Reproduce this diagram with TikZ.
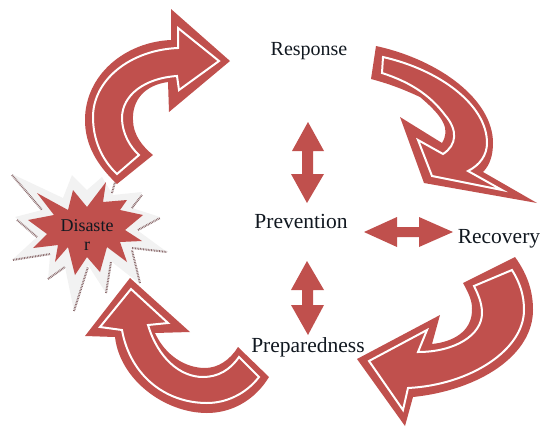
\documentclass[tikz,border=0pt]{standalone}
\usepackage{fontspec}
\setmainfont{Liberation Serif}
\usetikzlibrary{positioning}

\tikzset{
  flecha/.style={fill=arrowred, draw=none},
  filete/.style={draw=white, line width=2pt, line join=miter},
  doble/.style={fill=arrowred, draw=none},
  sombra/.style={draw=hatch, line width=2pt, dash pattern=on .8pt off .8pt},
  etiqueta/.style={text=textdark, font=\fontsize{21.5}{24}\selectfont, inner sep=0pt}
}
\definecolor{arrowred}{HTML}{C0504D}
\definecolor{textdark}{HTML}{111820}
\definecolor{stargrey}{HTML}{F2F2F2}
\definecolor{hatch}{HTML}{8A6A6C}

\begin{document}
\begin{tikzpicture}[x=1pt, y=-1pt]
                  \useasboundingbox (0,0) rectangle (541,426);

                  % Estrella del desastre.
                  \fill[stargrey] (12,174) -- (63,198) -- (72,175) -- (87,190) -- (102,177) -- (113,195)
                  -- (142,192) -- (132,208) -- (160,217) -- (137,230) -- (167,252) -- (131,248)
                  -- (140,284) -- (112,262) -- (106,293) -- (88,265) -- (74,311) -- (65,267)
                  -- (48,280) -- (50,255) -- (12,260) -- (37,237) -- (15,217) -- (42,210) -- cycle;
                  \foreach \xa/\ya/\xb/\yb in {12/175/42/210, 17/220/37/237, 13/260/50/254,
                  48/279/65/267, 74/311/88/267, 106/293/111/262, 140/283/132/250,
                  132/248/167/252, 138/230/160/218, 132/208/142/195, 112/193/115/182}
                  \draw[sombra] (\xa,\ya) -- (\xb,\yb);
                  \fill[arrowred] (37,193) -- (68,210) -- (73,190) -- (87,207) -- (106,182) -- (103,202)
                  -- (127,200) -- (120,210) -- (143,215) -- (125,230) -- (142,241) -- (120,242)
                  -- (127,262) -- (107,247) -- (100,272) -- (87,257) -- (75,275) -- (68,247)
                  -- (55,262) -- (58,245) -- (33,248) -- (47,234) -- (28,220) -- (54,215) -- cycle;

                  % Flechas curvas del ciclo.
                  \fill[flecha] (171,9) -- (230,61) -- (169,112) -- (168,82) .. controls (145,85) and (132,100) .. (133,120)
                  .. controls (133,135) and (143,147) .. (153,155) -- (117,184) .. controls (97,165) and (85,145) .. (85,120)
                  .. controls (85,75) and (125,42) .. (171,40) -- cycle;
                  \draw[filete] (178,28) -- (219,61) -- (179,90) -- (177,76) .. controls (145,78) and (122,95) .. (122,118)
                  .. controls (122,133) and (130,147) .. (139,155) -- (117,174) .. controls (102,160) and (93,140) .. (93,117)
                  .. controls (93,80) and (130,50) .. (178,48) -- cycle;

                  \fill[flecha] (376,46) .. controls (440,60) and (493,100) .. (493,143) .. controls (493,155) and (490,165) .. (483,172)
                  -- (537,203) -- (424,183) -- (400,117) -- (442,143) .. controls (450,130) and (445,118) .. (420,97)
                  .. controls (405,90) and (390,84) .. (371,79) -- cycle;
                  \draw[filete] (383,57) .. controls (440,70) and (487,105) .. (487,143) .. controls (487,155) and (480,165) .. (468,171)
                  -- (502,190) -- (432,176) -- (418,140) -- (443,154) .. controls (457,145) and (458,130) .. (445,115)
                  .. controls (430,95) and (410,82) .. (382,73) -- cycle;

                  \fill[flecha] (515,257) .. controls (528,275) and (533,292) .. (533,310) .. controls (533,355) and (480,390) .. (413,397)
                  -- (405,426) -- (357,359) -- (440,315) -- (432,344) .. controls (452,342) and (473,332) .. (472,308)
                  .. controls (472,300) and (468,292) .. (463,283) -- cycle;
                  \draw[filete] (512,270) .. controls (520,283) and (524,295) .. (524,310) .. controls (524,350) and (470,385) .. (408,388)
                  -- (403,410) -- (369,361) -- (427,330) -- (418,352) .. controls (455,352) and (482,335) .. (482,313)
                  .. controls (482,303) and (478,294) .. (474,286) -- cycle;

                  \fill[flecha] (130,278) -- (190,332) -- (155,333) .. controls (165,355) and (185,368) .. (205,368)
                  .. controls (218,368) and (230,360) .. (238,347) -- (269,377) .. controls (255,400) and (232,413) .. (207,413)
                  .. controls (165,413) and (120,380) .. (115,337) -- (85,336) -- cycle;
                  \draw[filete] (131,289) -- (168,323) -- (148,325) .. controls (158,358) and (180,377) .. (203,377)
                  .. controls (218,377) and (230,370) .. (239,357) -- (259,377) .. controls (245,395) and (225,403) .. (207,403)
                  .. controls (165,403) and (130,375) .. (122,330) -- (100,327) -- cycle;

                  % Flechas dobles del centro.
                  \fill[doble] (308,122) -- (324,151) -- (313,151) -- (313,174) -- (324,174) -- (307,203)
                  -- (291,174) -- (302,174) -- (302,151) -- (292,151) -- cycle;
                  \fill[doble] (307,261) -- (324,290) -- (313,290) -- (313,305) -- (324,305) -- (308,335)
                  -- (291,305) -- (302,305) -- (302,290) -- (291,290) -- cycle;
                  \fill[doble] (364,232) -- (397,217) -- (397,227) -- (419,227) -- (419,217) -- (453,232)
                  -- (419,247) -- (419,237) -- (397,237) -- (397,247) -- cycle;

                  % Etiquetas.
                  \node[etiqueta, font=\fontsize{20}{24}\selectfont] (response) at (309,51) {Response};
                  \node[etiqueta] (prevention) at (301,221) {Prevention};
                  \node[etiqueta] (recovery) at (499,239) {Recovery};
                  \node[etiqueta] (preparedness) at (308,347) {Preparedness};
                  \node[etiqueta, font=\fontsize{18}{19}\selectfont, align=center] (disaster) at (87,235) {Disaste\\r};

                \end{tikzpicture}
\end{document}
